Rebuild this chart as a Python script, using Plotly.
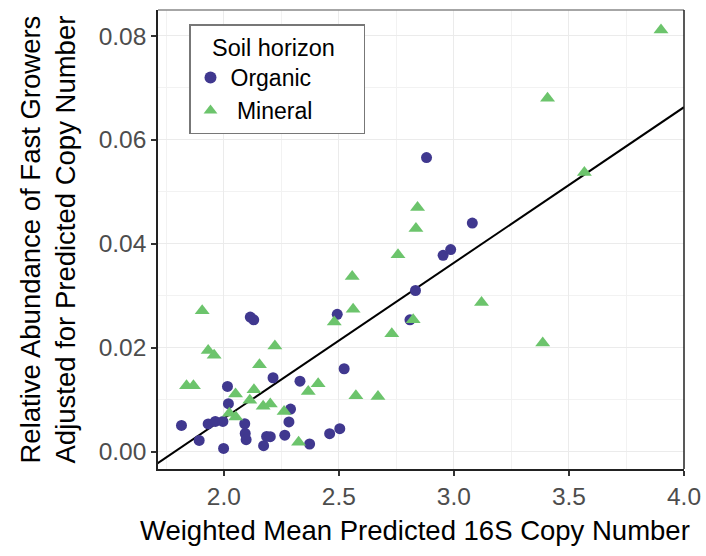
import plotly.graph_objects as go

# ---- data ----
organic_x = [1.816, 1.893, 1.932, 1.963, 1.996, 1.999, 2.016, 2.020, 2.091, 2.093,
             2.097, 2.115, 2.130, 2.173, 2.186, 2.202, 2.214, 2.265, 2.283, 2.290,
             2.331, 2.373, 2.460, 2.504, 2.523, 2.493, 2.809, 2.833, 2.881, 2.953,
             2.986, 3.080]
organic_y = [0.00506, 0.00217, 0.00535, 0.00583, 0.00583, 0.00062, 0.01256, 0.00923, 0.00538, 0.00350,
             0.00231, 0.02590, 0.02538, 0.00115, 0.00294, 0.00288, 0.01423, 0.00317, 0.00573, 0.00821,
             0.01356, 0.00148, 0.00346, 0.00442, 0.01596, 0.02644, 0.02538, 0.03102, 0.05660, 0.03779,
             0.03890, 0.04400]

mineral_x = [1.838, 1.868, 1.906, 1.932, 1.958, 2.024, 2.052, 2.051, 2.113, 2.131,
             2.155, 2.171, 2.202, 2.222, 2.262, 2.325, 2.367, 2.410, 2.480, 2.558,
             2.562, 2.574, 2.670, 2.730, 2.757, 2.823, 2.835, 2.842, 3.120, 3.386,
             3.407, 3.567, 3.900]
mineral_y = [0.01269, 0.01269, 0.02712, 0.01948, 0.01856, 0.00740, 0.00667, 0.01112, 0.00990, 0.01192,
             0.01673, 0.00875, 0.00919, 0.02033, 0.00775, 0.00183, 0.01160, 0.01308, 0.02494, 0.03371,
             0.02740, 0.01077, 0.01063, 0.02269, 0.03788, 0.02538, 0.04294, 0.04698, 0.02871, 0.02090,
             0.06800, 0.05371, 0.08115]

fit_slope = 0.02995
fit_intercept = -0.0535
fit_x = [1.70, 4.0]
fit_y = [fit_slope * v + fit_intercept for v in fit_x]

x_range = [1.714, 4.0]
y_range = [-0.00333, 0.085]
x_ticks = [2.0, 2.5, 3.0, 3.5, 4.0]
x_ticklabels = ["2.0", "2.5", "3.0", "3.5", "4.0"]
y_ticks = [0.00, 0.02, 0.04, 0.06, 0.08]
y_ticklabels = ["0.00", "0.02", "0.04", "0.06", "0.08"]

x_title = "Weighted Mean Predicted 16S Copy Number"
y_title_lines = ["Relative Abundance of Fast Growers", "Adjusted for Predicted Copy Number"]
legend_title = "Soil horizon"

FONT = "Liberation Sans, Arial, sans-serif"
PURPLE = "#40388f"
GREEN = "#6cc46c"

fig = go.Figure()
fig.add_trace(go.Scatter(x=fit_x, y=fit_y, mode="lines",
                         line=dict(color="black", width=2), showlegend=False,
                         hoverinfo="skip"))
fig.add_trace(go.Scatter(x=organic_x, y=organic_y, mode="markers", name="Organic",
                         marker=dict(symbol="circle", size=11, color=PURPLE)))
fig.add_trace(go.Scatter(x=mineral_x, y=mineral_y, mode="markers", name=" Mineral",
                         marker=dict(symbol="triangle-up", size=13, color=GREEN)))

axis_common = dict(showgrid=True, gridcolor="#ebebeb", gridwidth=1.2, zeroline=False,
                   ticks="outside", ticklen=5, tickcolor="#333333", tickwidth=1.5,
                   tickfont=dict(family=FONT, size=24.5, color="#4d4d4d"),
                   showline=True, linecolor="#222222", linewidth=1.5, automargin=False)

PLOT_L, PLOT_R, PLOT_T, PLOT_B = 158, 684, 10, 469
W, H = 706, 556
NB = "\u00a0"

fig.update_layout(
    width=W, height=H,
    margin=dict(l=PLOT_L, r=W - PLOT_R, t=PLOT_T, b=H - PLOT_B),
    plot_bgcolor="white", paper_bgcolor="white",
    xaxis=dict(range=x_range, tickvals=x_ticks, ticktext=x_ticklabels,
               minor=dict(dtick=0.25, tick0=1.75, showgrid=True, gridcolor="#f2f2f2"),
               **axis_common),
    yaxis=dict(range=y_range, tickvals=y_ticks, ticktext=y_ticklabels,
               minor=dict(dtick=0.01, tick0=0.01, showgrid=True, gridcolor="#f2f2f2"),
               **axis_common),
    legend=dict(x=(189 - PLOT_L) / (PLOT_R - PLOT_L), y=(PLOT_B - 24) / (PLOT_B - PLOT_T),
                xanchor="left", yanchor="top",
                bgcolor="white", bordercolor="#777777", borderwidth=1.5,
                title=dict(text=NB * 3 + legend_title + NB * 4,
                           font=dict(family=FONT, size=23.5, color="black")),
                font=dict(family=FONT, size=23, color="black"),
                itemsizing="constant", tracegroupgap=0),
    shapes=[
        dict(type="line", xref="paper", yref="paper", x0=0, x1=1, y0=1, y1=1,
             line=dict(color="#888888", width=1.5)),
        dict(type="line", xref="paper", yref="paper", x0=1, x1=1, y0=0, y1=1,
             line=dict(color="#222222", width=1.5)),
    ],
    annotations=[
        dict(text=x_title, xref="paper", yref="paper", x=0.5, y=0, xshift=-6, yshift=-(530 - PLOT_B),
             xanchor="center", yanchor="middle", showarrow=False,
             font=dict(family=FONT, size=27.5, color="black")),
        dict(text=y_title_lines[0], xref="paper", yref="paper", x=0, y=0.5, xshift=30 - PLOT_L,
             xanchor="center", yanchor="middle", textangle=-90, showarrow=False,
             font=dict(family=FONT, size=27.5, color="black")),
        dict(text=y_title_lines[1], xref="paper", yref="paper", x=0, y=0.5, xshift=65 - PLOT_L,
             xanchor="center", yanchor="middle", textangle=-90, showarrow=False,
             font=dict(family=FONT, size=27.5, color="black")),
    ],
)

fig.write_html("out.html", config={"displayModeBar": False})

# remove the default page margin so the figure sits at the window's corner
with open("out.html", "r", encoding="utf-8") as fh:
    html = fh.read()
html = html.replace("<head>", "<head><style>html,body{margin:0;padding:0;overflow:hidden;}</style>", 1)
with open("out.html", "w", encoding="utf-8") as fh:
    fh.write(html)
